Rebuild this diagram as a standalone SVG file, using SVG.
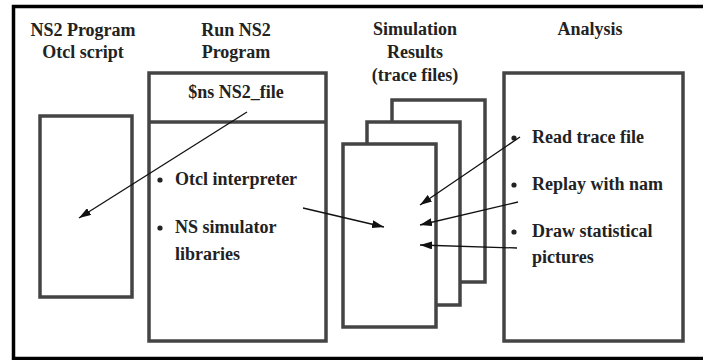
<svg xmlns="http://www.w3.org/2000/svg" width="703" height="360" viewBox="0 0 703 360">
<defs>
<marker id="ah" viewBox="0 0 12 8" refX="12" refY="4" markerWidth="12" markerHeight="8" markerUnits="userSpaceOnUse" orient="auto">
<path d="M0,0 L12,4 L0,8 Z" fill="#111"/>
</marker>
</defs>
<style>
.box{fill:#fff;stroke:#444;stroke-width:3.5}
text{font-family:'Liberation Serif','Times New Roman',serif;font-weight:bold;font-size:18px;fill:#222}
.c{text-anchor:middle}
.b{fill:#222}
.conn{stroke:#111;stroke-width:1.3;fill:none;marker-end:url(#ah)}
</style>
<rect x="0" y="0" width="703" height="360" fill="#fff"/>
<rect x="13.5" y="6.5" width="700" height="352" fill="none" stroke="#000" stroke-width="3.5"/>

<g id="titles">
<text class="c" x="83" y="36">NS2 Program</text>
<text class="c" x="83" y="58">Otcl script</text>
<text class="c" x="236" y="36">Run NS2</text>
<text class="c" x="236" y="58">Program</text>
<text class="c" x="415" y="35">Simulation</text>
<text class="c" x="415" y="58">Results</text>
<text class="c" x="415" y="81">(trace files)</text>
<text class="c" x="590" y="35">Analysis</text>
</g>

<g id="ns2-program">
<rect class="box" x="40" y="116" width="92" height="181"/>
</g>

<g id="run-ns2">
<rect class="box" x="149" y="73" width="177" height="268"/>
<line x1="149" y1="122" x2="326" y2="122" stroke="#444" stroke-width="3.5"/>
<text class="c" x="236" y="98">$ns NS2_file</text>
<circle class="b" cx="160" cy="180" r="2.6"/>
<text x="175" y="185">Otcl interpreter</text>
<circle class="b" cx="160" cy="228" r="2.6"/>
<text x="175" y="233">NS simulator</text>
<text x="175" y="260">libraries</text>
</g>

<g id="trace-files">
<rect class="box" x="392" y="100" width="93" height="182"/>
<rect class="box" x="367" y="122" width="93" height="183"/>
<rect class="box" x="343" y="144" width="93" height="183"/>
</g>

<g id="analysis">
<rect class="box" x="504" y="73" width="179" height="268"/>
<circle class="b" cx="514" cy="138" r="2.6"/>
<text x="532" y="143">Read trace file</text>
<circle class="b" cx="514" cy="185" r="2.6"/>
<text x="532" y="190">Replay with nam</text>
<circle class="b" cx="514" cy="232" r="2.6"/>
<text x="532" y="237">Draw statistical</text>
<text x="532" y="263">pictures</text>
</g>

<g id="connectors">
<line class="conn" x1="247" y1="112" x2="79" y2="218"/>
<line class="conn" x1="303" y1="208" x2="384" y2="227"/>
<line class="conn" x1="520" y1="137" x2="420" y2="205"/>
<line class="conn" x1="518" y1="202" x2="420" y2="225"/>
<line class="conn" x1="517" y1="248" x2="420" y2="245"/>
</g>
</svg>
